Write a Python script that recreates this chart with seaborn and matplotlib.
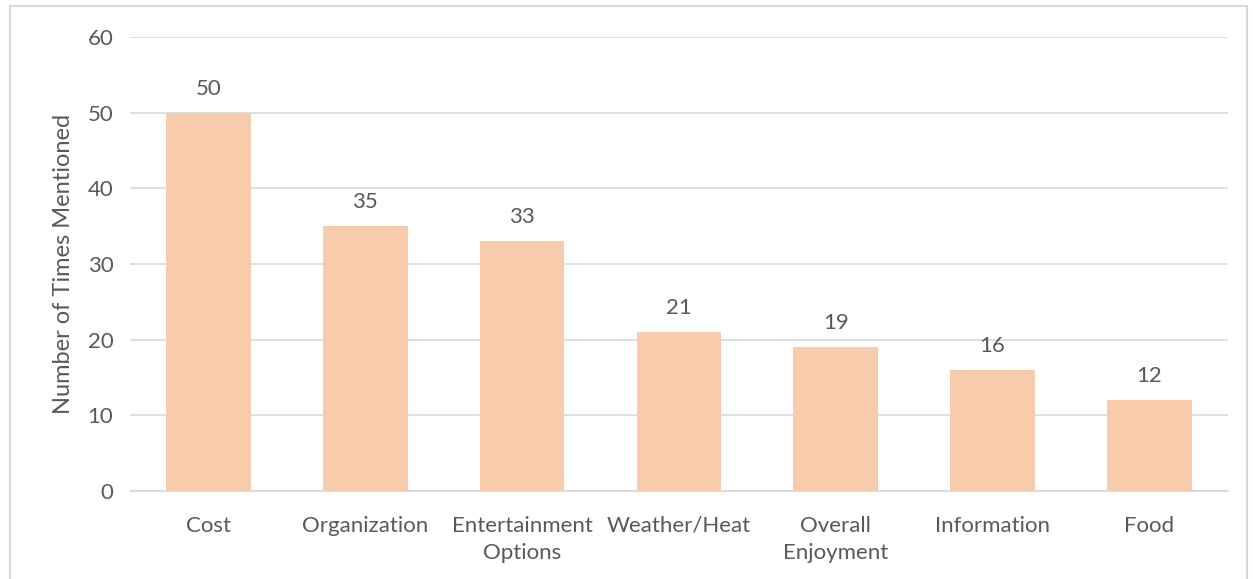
import matplotlib
matplotlib.use('Agg')
import matplotlib.pyplot as plt
import pandas as pd
import seaborn as sns
from matplotlib.patches import Rectangle

categories = ['Cost', 'Organization', 'Entertainment\nOptions', 'Weather/Heat',
              'Overall\nEnjoyment', 'Information', 'Food']
counts = [50, 35, 33, 21, 19, 16, 12]

df = pd.DataFrame({'category': categories, 'count': counts})

sns.set_theme(style='white')
plt.rcParams['font.family'] = ['Lato', 'DejaVu Sans']
text_color = '#595959'
bar_color = '#F8CBAD'

fig = plt.figure(figsize=(12.53, 5.79), dpi=100)
ax = fig.add_axes([0.1038, 0.152, 0.876, 0.784])

sns.barplot(data=df, x='category', y='count', color=bar_color, width=0.54,
            saturation=1, linewidth=0, ax=ax, zorder=3)

ax.set_ylim(0, 60)
ax.set_yticks(range(0, 61, 10))
ax.yaxis.grid(True, color='#D9D9D9', linewidth=1.2, zorder=0)
ax.set_axisbelow(True)
for s in ['top', 'right', 'left']:
    ax.spines[s].set_visible(False)
ax.spines['bottom'].set_color('#D9D9D9')
ax.spines['bottom'].set_linewidth(1.2)
ax.tick_params(axis='both', length=0, labelsize=16, colors=text_color)
ax.tick_params(axis='y', pad=12)
ax.tick_params(axis='x', pad=18)
for t in ax.get_xticklabels():
    t.set_linespacing(1.45)
ax.set_xlabel('')
ax.set_ylabel('Number of Times Mentioned', fontsize=17, color=text_color, labelpad=10)

for c in ax.containers:
    ax.bar_label(c, labels=[str(v) for v in counts], padding=10,
                 fontsize=16, color=text_color)

fig.patches.append(Rectangle((10 / 1253, -0.01), 1237 / 1253, 1 - 6 / 579 + 0.01,
                             transform=fig.transFigure, fill=False,
                             edgecolor='#D9D9D9', linewidth=1.5))

fig.savefig('out.png', dpi=100)
